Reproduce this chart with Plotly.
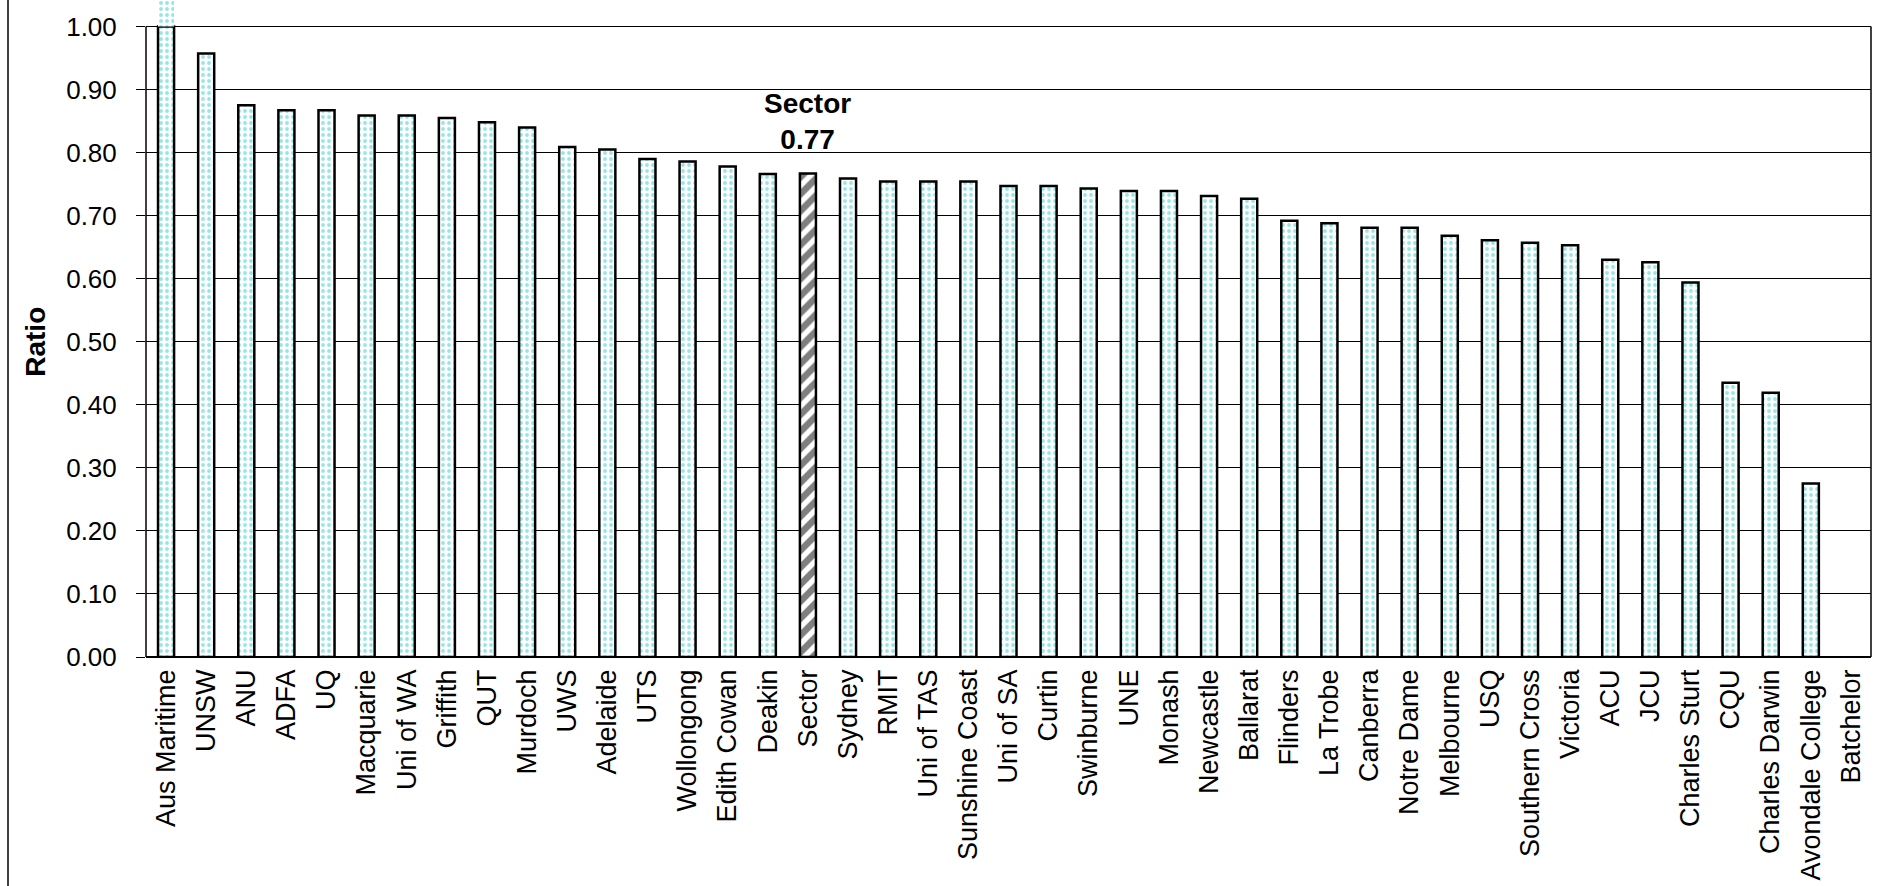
import plotly.graph_objects as go

# ---- data ----
institutions = ["Aus Maritime", "UNSW", "ANU", "ADFA", "UQ", "Macquarie", "Uni of WA", "Griffith",
                "QUT", "Murdoch", "UWS", "Adelaide", "UTS", "Wollongong", "Edith Cowan", "Deakin",
                "Sector", "Sydney", "RMIT", "Uni of TAS", "Sunshine Coast", "Uni of SA", "Curtin",
                "Swinburne", "UNE", "Monash", "Newcastle", "Ballarat", "Flinders", "La Trobe",
                "Canberra", "Notre Dame", "Melbourne", "USQ", "Southern Cross", "Victoria", "ACU",
                "JCU", "Charles Sturt", "CQU", "Charles Darwin", "Avondale College", "Batchelor"]
ratios = [1.05, 0.957, 0.875, 0.867, 0.867, 0.859, 0.859, 0.855, 0.848, 0.840, 0.809, 0.805,
          0.790, 0.786, 0.778, 0.766, 0.767, 0.759, 0.754, 0.754, 0.754, 0.747, 0.747, 0.743,
          0.739, 0.739, 0.731, 0.727, 0.692, 0.688, 0.681, 0.681, 0.668, 0.661, 0.657, 0.653,
          0.630, 0.626, 0.594, 0.435, 0.419, 0.275, None]
highlight = "Sector"
y_ticks = [round(i * 0.1, 1) for i in range(11)]
axis_max = 1.0

# ---- styling ----
W, H = 1899, 886
ML, MR, MT, MB = 146, 28, 0, 229
plot_h = H - MT - MB
px_per_unit = 630.5
top_extra = (plot_h - px_per_unit * axis_max) / px_per_unit
FONT = "Liberation Sans, Arial, sans-serif"
DOT = "#2ccfcf"

in_range = [None if v is None else min(v, axis_max) for v in ratios]
overflow = [None if (v is None or v <= axis_max) else v - axis_max for v in ratios]

shapes_ = ["/" if n == highlight else "." for n in institutions]
fg = ["#000000" if n == highlight else DOT for n in institutions]
sizes = [12 if n == highlight else 6 for n in institutions]
solid = [0.55 if n == highlight else 0.33 for n in institutions]

fig = go.Figure()
fig.add_trace(go.Bar(
    x=institutions, y=in_range,
    marker=dict(color="white",
                line=dict(color="black", width=2.5),
                pattern=dict(shape=shapes_, fgcolor=fg, bgcolor="white",
                             size=sizes, solidity=solid, fillmode="overlay")),
    showlegend=False,
))
fig.add_trace(go.Bar(
    x=institutions, y=overflow, base=[axis_max] * len(institutions),
    marker=dict(color="white", line=dict(width=0),
                pattern=dict(shape=shapes_, fgcolor=fg, bgcolor="white",
                             size=sizes, solidity=solid, fillmode="overlay")),
    showlegend=False,
))

sector_val = ratios[institutions.index(highlight)]
fig.add_annotation(x=highlight, y=sector_val, xref="x", yref="y",
                   text=f"<b>{highlight}<br>{sector_val:.2f}</b>",
                   showarrow=False, yanchor="middle", yshift=52,
                   font=dict(family=FONT, size=28, color="black"))
fig.add_annotation(x=0, xref="paper", xshift=-110, y=axis_max / 2, yref="y",
                   text="<b>Ratio</b>", textangle=-90, showarrow=False,
                   xanchor="center", yanchor="middle",
                   font=dict(family=FONT, size=28, color="black"))

# plot box (left axis line, right border), left outer border
fig.add_shape(type="line", xref="paper", yref="y", x0=0, x1=0, y0=0, y1=axis_max,
              line=dict(color="black", width=1.5))
fig.add_shape(type="line", xref="paper", yref="y", x0=1, x1=1, y0=0, y1=axis_max,
              line=dict(color="black", width=1.5))
fig.add_shape(type="line", xref="paper", yref="paper", xsizemode="pixel", ysizemode="pixel",
              xanchor=0, yanchor=0, x0=-138, x1=-138, y0=-MB, y1=plot_h + MT,
              line=dict(color="black", width=1.5))

fig.update_layout(
    width=W, height=H,
    margin=dict(l=ML, r=MR, t=MT, b=MB, pad=0),
    paper_bgcolor="white", plot_bgcolor="white",
    barmode="overlay", bargap=0.6,
    font=dict(family=FONT, color="black"),
    xaxis=dict(tickangle=-90, tickfont=dict(size=27, family=FONT),
               showgrid=False, showline=False, ticks="", zeroline=False,
               ticklabelstandoff=6),
    yaxis=dict(range=[0, axis_max + top_extra], tickvals=y_ticks, tickformat=".2f",
               tickfont=dict(size=26, family=FONT),
               showgrid=True, gridcolor="black", gridwidth=1,
               ticks="outside", ticklen=9, tickcolor="black", tickwidth=1,
               ticklabelstandoff=14,
               showline=False, zeroline=True, zerolinecolor="black", zerolinewidth=1.5),
)

fig.write_html("out.html", config={"displayModeBar": False},
               post_script="document.body.style.margin='0';")
